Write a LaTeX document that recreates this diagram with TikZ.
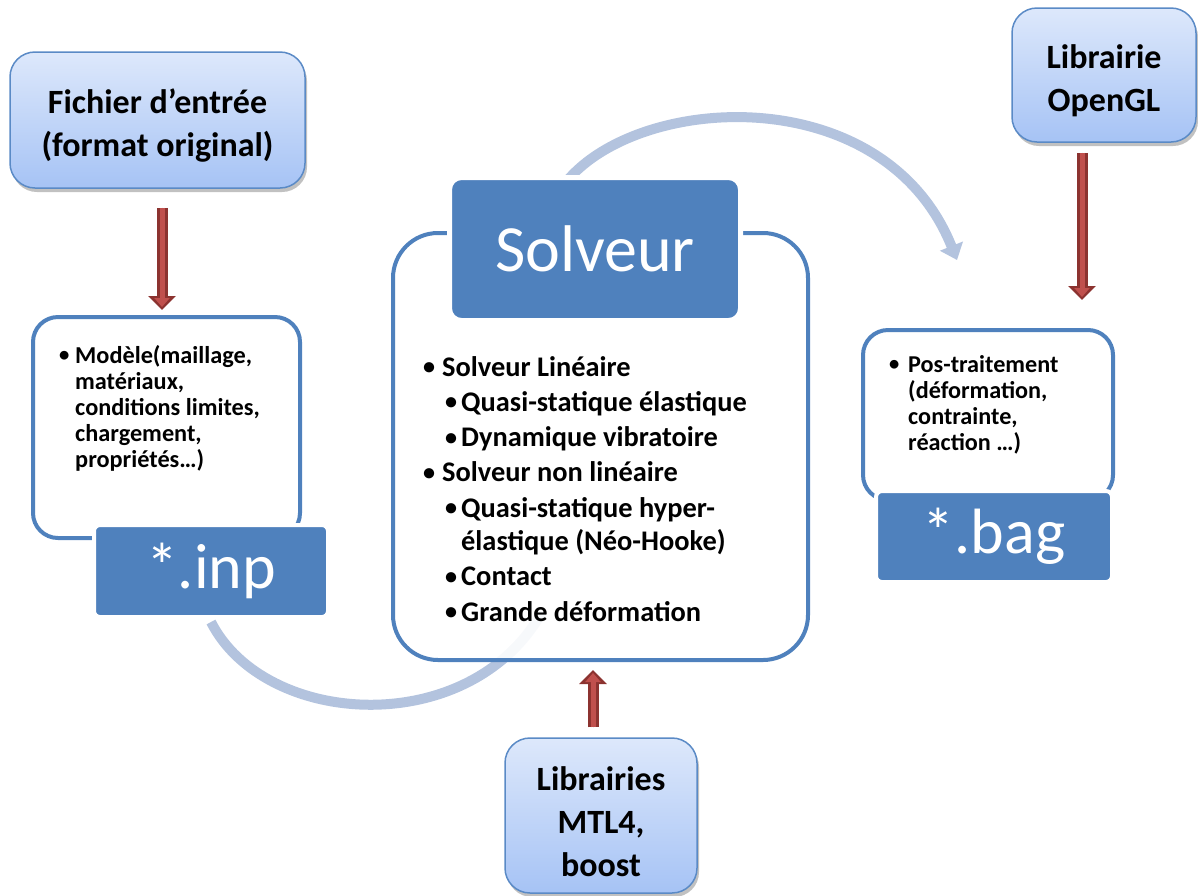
\documentclass[tikz,border=0pt]{standalone}
\usepackage{fontspec}
\setmainfont{Carlito}
\usetikzlibrary{arrows.meta,shadows}
\definecolor{accent}{HTML}{4F81BD}
\definecolor{arcblue}{HTML}{B3C3DE}
\definecolor{lbtop}{HTML}{DDE8FB}
\definecolor{lbbot}{HTML}{A6C3F5}
\definecolor{lbedge}{HTML}{5A8AC6}
\definecolor{rdark}{HTML}{8C3330}
\definecolor{rlight}{HTML}{C0504D}
\newcommand{\smbul}{\raisebox{0.05em}{\scalebox{0.85}{\textbullet}}}
\begin{document}
\begin{tikzpicture}[x=1pt,y=-1pt,
  libbox/.style={rounded corners=25pt, draw=lbedge, line width=1.5pt,
    top color=lbtop, bottom color=lbbot,
    drop shadow={shadow xshift=2pt, shadow yshift=-4pt, opacity=0.35, fill=black!70},
    inner sep=0pt},
  libtext/.style={align=center, font=\bfseries\fontsize{34}{43}\selectfont, inner sep=0pt},
  framebox/.style={rounded corners=25pt, draw=accent, line width=4pt, fill=white, inner sep=0pt},
  tagbox/.style={rounded corners=6pt, fill=accent, draw=white, line width=4pt,
    text=white, font=\fontsize{64}{70}\selectfont, inner sep=0pt},
  listtext/.style={anchor=base west, inner sep=0pt, font=\bfseries},
  arcarrow/.style={draw=arcblue, line width=10pt},
  redouter/.style={draw=rdark, fill=rdark, line width=11pt, -{Triangle[length=14pt,width=27pt]}},
  redinner/.style={draw=rlight, fill=rlight, line width=5pt, -{Triangle[length=9pt,width=15pt]}}
]
\useasboundingbox (0,0) rectangle (1198,895);

% curved arrows (behind boxes)
\node[tagbox, minimum width=234pt, minimum height=92pt] (inp) at (211,571) {};
\coordinate (arcBend) at (542,612);
\coordinate (arcAend) at (957,260);
\coordinate (arcAstart) at (566,182);
\draw[arcarrow] ([yshift=-3pt]inp.south) .. controls (265,728) and (470,740) .. (arcBend);
\draw[arcarrow, -{Triangle[length=15pt,width=24pt]}] (arcAstart) .. controls (640,92) and (885,80) .. (arcAend);

% top input boxes
\node[libbox, minimum width=295pt, minimum height=136pt] (fichier) at (157.5,120) {};
\node[libtext] (fichiertxt) at ([yshift=-6pt]fichier.center) {Fichier d’entrée\\(format original)};
\node[libbox, minimum width=184pt, minimum height=134pt] (opengl) at (1104,75) {};
\node[libtext] (opengltxt) at ([yshift=-6pt]opengl.center) {Librairie\\OpenGL};
\node[libbox, minimum width=192pt, minimum height=155pt] (mtl) at (601,815.5) {};
\node[libtext] (mtltxt) at ([yshift=-6pt]mtl.center) {Librairies\\MTL4,\\boost};

% left group
\node[framebox, minimum width=267pt, minimum height=221pt] (modele) at (166.5,427.5) {};
\node[tagbox, minimum width=234pt, minimum height=92pt] (inptag) at (211,571) {*.inp};
\node[listtext] (modeletxt) at (59,363) {\parbox[t]{240pt}{\raggedright\fontsize{24.3}{26}\selectfont
  \makebox[16pt][l]{\smbul}Modèle(maillage,\\
  \hspace*{16pt}matériaux,\\
  \hspace*{16pt}conditions limites,\\
  \hspace*{16pt}chargement,\\
  \hspace*{16pt}propriétés…)}};

% right group
\node[framebox, minimum width=250pt, minimum height=170pt] (pos) at (988,415) {};
\node[tagbox, minimum width=236pt, minimum height=91pt] (bag) at (994,536.5) {*.bag};
\node[listtext] (postxt) at (889,372) {\parbox[t]{220pt}{\raggedright\fontsize{24.2}{26}\selectfont
  \makebox[19pt][l]{\smbul}Pos-traitement\\
  \hspace*{19pt}(déformation,\\
  \hspace*{19pt}contrainte,\\
  \hspace*{19pt}réaction …)}};

% solver group
\node[framebox, rounded corners=45pt, fill opacity=0.9, minimum width=415pt, minimum height=427pt] (solframe) at (600.5,446.5) {};
\node[tagbox, rounded corners=12pt, line width=5pt, minimum width=291pt, minimum height=143pt,
  font=\fontsize{66}{72}\selectfont] (solveur) at (595,249) {Solveur};
\node[listtext] (soltxt) at (423,376) {\parbox[t]{380pt}{\raggedright\fontsize{28.4}{35.3}\selectfont
  \makebox[19pt][l]{\smbul}Solveur Linéaire\\
  \hspace*{22pt}\makebox[16pt][l]{\smbul}Quasi-statique élastique\\
  \hspace*{22pt}\makebox[16pt][l]{\smbul}Dynamique vibratoire\\
  \makebox[19pt][l]{\smbul}Solveur non linéaire\\
  \hspace*{22pt}\makebox[16pt][l]{\smbul}Quasi-statique hyper-\\[-2pt]
  \hspace*{38pt}élastique (Néo-Hooke)\\
  \hspace*{22pt}\makebox[16pt][l]{\smbul}Contact\\
  \hspace*{22pt}\makebox[16pt][l]{\smbul}Grande déformation}};

% red block arrows
\draw[redouter, shorten <=19pt, shorten >=5pt] ([xshift=4.5pt]fichier.south) -- ([xshift=-4.5pt]modele.north);
\draw[redinner, shorten <=19pt, shorten >=8pt] ([xshift=4.5pt]fichier.south) -- ([xshift=-4.5pt]modele.north);
\draw[redouter, shorten <=10pt, shorten >=28pt] ([xshift=-22pt]opengl.south) -- ([xshift=94pt]pos.north);
\draw[redinner, shorten <=10pt, shorten >=31pt] ([xshift=-22pt]opengl.south) -- ([xshift=94pt]pos.north);
\draw[redouter, shorten <=10pt, shorten >=8pt] ([xshift=-8pt]mtl.north) -- ([xshift=-7.5pt]solframe.south);
\draw[redinner, shorten <=10pt, shorten >=11pt] ([xshift=-8pt]mtl.north) -- ([xshift=-7.5pt]solframe.south);
\end{tikzpicture}
\end{document}
